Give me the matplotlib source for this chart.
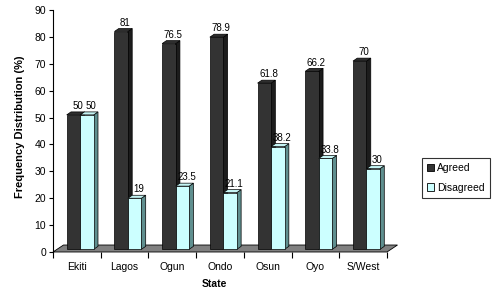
import matplotlib
matplotlib.use("Agg")
import matplotlib.pyplot as plt
from matplotlib.patches import Polygon, Rectangle
from matplotlib.transforms import Bbox
import numpy as np

plt.rcParams["font.family"] = ["Liberation Sans", "DejaVu Sans"]

# data
states = ["Ekiti", "Lagos", "Ogun", "Ondo", "Osun", "Oyo", "S/West"]
agreed = [50, 81, 76.5, 78.9, 61.8, 66.2, 70]
disagreed = [50, 19, 23.5, 21.1, 38.2, 33.8, 30]

# colours (Excel 3D look)
DARK_FRONT, DARK_SIDE, DARK_TOP = "#333333", "#1c1c1c", "#2e2e2e"
LIGHT_FRONT, LIGHT_SIDE, LIGHT_TOP = "#ccffff", "#5f8f8f", "#c4f4f4"
FLOOR = "#808080"

W = 0.283        # bar width (category = 1)
DX, DY = 0.09, 1.1    # pseudo-3D depth of a bar
FDX, FDY = 0.22, 2.6  # depth of the floor
BASE = 1.0

fig = plt.figure(figsize=(4.99, 2.91), dpi=100)
ax = fig.add_axes([53 / 499, 1 - 252 / 291, 334 / 499, 242 / 291])
ax.set_xlim(0, len(states))
ax.set_ylim(0, 90)

# floor
floor = Polygon([(0, 0), (len(states), 0), (len(states) + FDX, FDY), (FDX, FDY)],
                closed=True, facecolor=FLOOR, edgecolor="black", lw=0.6,
                clip_on=False, zorder=1)
ax.add_patch(floor)


def bar3d(x0, vals, front, side, top, z):
    bars = ax.bar(x0, vals, width=W, bottom=BASE, align="edge", color=front,
                  edgecolor="black", linewidth=0.5, zorder=z)
    for b in bars:
        x, y, w, h = b.get_x(), b.get_y(), b.get_width(), b.get_height()
        t = y + h
        ax.add_patch(Polygon([(x + w, y), (x + w + DX, y + DY), (x + w + DX, t + DY), (x + w, t)],
                             closed=True, facecolor=side, edgecolor="black", lw=0.5,
                             zorder=z - 0.5, clip_on=False))
        ax.add_patch(Polygon([(x, t), (x + w, t), (x + w + DX, t + DY), (x + DX, t + DY)],
                             closed=True, facecolor=top, edgecolor="black", lw=0.5,
                             zorder=z - 0.5, clip_on=False))
    return bars


idx = np.arange(len(states))
ba = bar3d(idx + 0.287, agreed, DARK_FRONT, DARK_SIDE, DARK_TOP, 3)
bd = bar3d(idx + 0.57, disagreed, LIGHT_FRONT, LIGHT_SIDE, LIGHT_TOP, 5)

for bars, vals in ((ba, agreed), (bd, disagreed)):
    for b, v in zip(bars, vals):
        ax.text(b.get_x() + W / 2 + DX, BASE + v + DY + 0.3, f"{v:g}",
                ha="center", va="bottom", fontsize=7, zorder=10)

# axes styling
for s in ("top", "right"):
    ax.spines[s].set_visible(False)
ax.spines["left"].set_linewidth(0.8)
ax.spines["bottom"].set_visible(False)
ax.set_yticks(np.arange(0, 91, 10))
ax.tick_params(axis="y", direction="out", length=3, width=0.8, labelsize=7.5, pad=2)
ax.set_xticks(np.arange(0, len(states) + 1))
ax.set_xticklabels([])
ax.tick_params(axis="x", which="major", direction="out", length=4, width=0.8)
ax.set_xticks(idx + 0.5, minor=True)
ax.set_xticklabels(states, minor=True, fontsize=7.5)
ax.tick_params(axis="x", which="minor", length=0, pad=7)

fig.text(214 / 499, 1 - 284 / 291, "State", ha="center", va="center",
         fontsize=7.5, fontweight="bold")
# the axis title is cut at the top in the original
ylab = fig.text(20 / 499, 1 - 198 / 291, "Frequency Distribution (%)",
                rotation=90, ha="center", va="bottom", fontsize=8, fontweight="bold")
ylab.set_clip_path(Rectangle((0, 0), 1, 1 - 57 / 291, transform=fig.transFigure))

handles = [Rectangle((0, 0), 1, 1, facecolor=DARK_FRONT, edgecolor="black", lw=0.6),
           Rectangle((0, 0), 1, 1, facecolor=LIGHT_FRONT, edgecolor="black", lw=0.6)]
leg = fig.legend(handles, ["Agreed", "Disagreed"], loc="upper left",
                 bbox_to_anchor=(421.7 / 499, 1 - 158 / 291), borderaxespad=0,
                 fontsize=7.5, frameon=True, fancybox=False, edgecolor="black",
                 handlelength=0.7, handleheight=0.7, handletextpad=0.3,
                 labelspacing=0.9, borderpad=0.5)
leg.get_frame().set_linewidth(0.8)

fig.savefig("out.png", dpi=100)
